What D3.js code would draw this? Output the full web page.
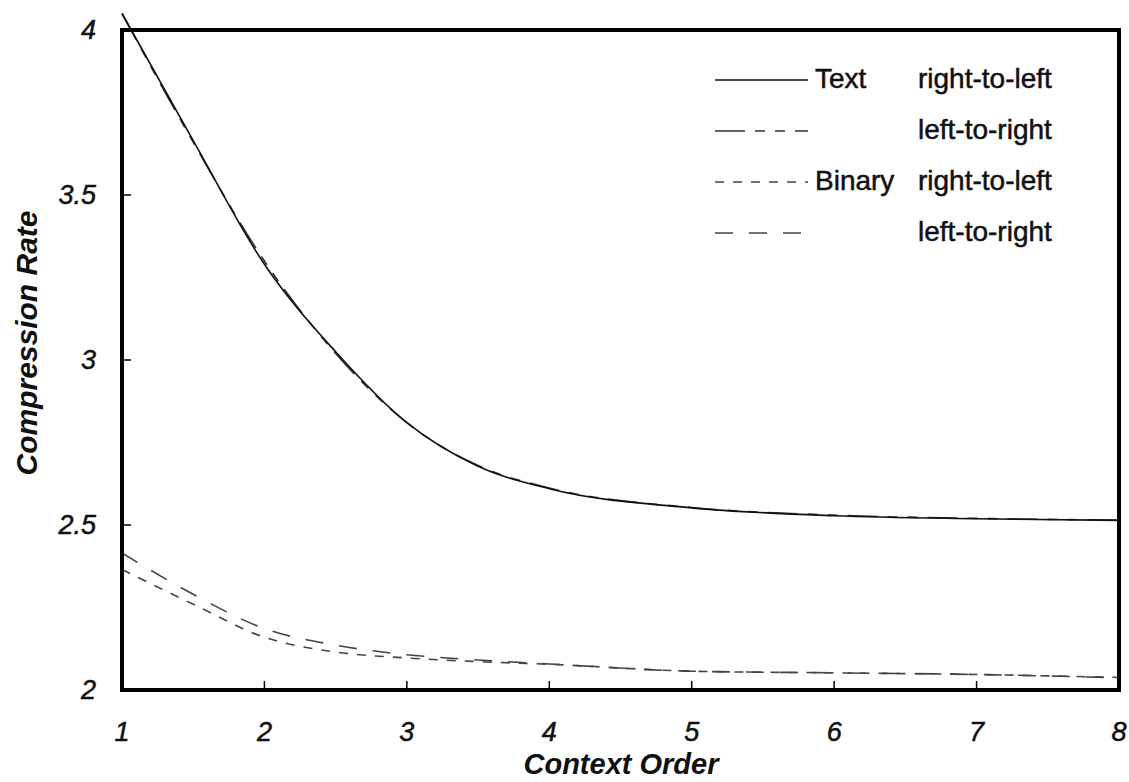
<!DOCTYPE html>
<html>
<head>
<meta charset="utf-8">
<script src="https://cdn.jsdelivr.net/npm/d3@7"></script>
<style>
  body { margin: 0; background: #fff; }
  text { font-family: "Liberation Sans", Arial, sans-serif; fill: #111; }
  .scan { stroke: #111; stroke-width: 0.5px; }
</style>
</head>
<body>
<script>
// data
const contextOrder = [1, 1.5, 2, 2.5, 3, 3.5, 4, 5, 6, 7, 8]
const textRightToLeft = [4.05, 3.665, 3.29, 3.025, 2.81, 2.678, 2.61, 2.552, 2.528, 2.519, 2.514]
const textLeftToRight = [4.05, 3.66, 3.30, 3.02, 2.81, 2.68, 2.612, 2.553, 2.53, 2.52, 2.515]
const binaryRightToLeft = [2.365, 2.26, 2.16, 2.115, 2.097, 2.086, 2.078, 2.057, 2.052, 2.047, 2.038]
const binaryLeftToRight = [2.415, 2.29, 2.186, 2.136, 2.107, 2.091, 2.079, 2.057, 2.052, 2.047, 2.037]
const xTicks = [1, 2, 3, 4, 5, 6, 7, 8]
const yTicks = [2, 2.5, 3, 3.5, 4]

const legendRows = [
  { group: 'Text', dir: 'right-to-left', values: textRightToLeft, dash: null, color: '#111' },
  { group: '', dir: 'left-to-right', values: textLeftToRight, dash: '30,10,10,10,10,10', color: '#333' },
  { group: 'Binary', dir: 'right-to-left', values: binaryRightToLeft, dash: '9,9', color: '#444' },
  { group: '', dir: 'left-to-right', values: binaryLeftToRight, dash: '18,16', color: '#444' }
]

const WIDTH = 1129
const HEIGHT = 782
const svg = d3.select('body').append('svg').attr('width', WIDTH).attr('height', HEIGHT)

const x = d3.scaleLinear().domain([1, 8]).range([122, 1119])
const y = d3.scaleLinear().domain([2, 4]).range([690, 30])

// curves
const line = d3.line()
  .x(d => x(d[0]))
  .y(d => y(d[1]))
  .curve(d3.curveMonotoneX)

// binary first, text on top
legendRows.slice().reverse().forEach(s => {
  svg.append('path')
    .datum(contextOrder.map((c, i) => [c, s.values[i]]))
    .attr('d', line)
    .attr('fill', 'none')
    .attr('stroke', s.color)
    .attr('stroke-width', 1.6)
    .attr('stroke-dasharray', s.dash)
})

// frame
svg.append('rect')
  .attr('x', x(1)).attr('y', y(4))
  .attr('width', x(8) - x(1)).attr('height', y(2) - y(4))
  .attr('fill', 'none').attr('stroke', '#000').attr('stroke-width', 4)

// inner ticks
svg.selectAll('.ytick')
  .data(yTicks.slice(1, -1))
  .enter().append('line')
  .attr('x1', x(1)).attr('x2', x(1) + 9)
  .attr('y1', d => y(d)).attr('y2', d => y(d))
  .attr('stroke', '#000').attr('stroke-width', 1.5)

svg.selectAll('.xtick')
  .data(xTicks.slice(1, -1))
  .enter().append('line')
  .attr('x1', d => x(d)).attr('x2', d => x(d))
  .attr('y1', y(2)).attr('y2', y(2) - 9)
  .attr('stroke', '#000').attr('stroke-width', 1.5)

// tick labels
svg.selectAll('.ylab')
  .data(yTicks)
  .enter().append('text')
  .attr('class', 'scan')
  .attr('x', 96)
  .attr('y', d => y(d) + 9)
  .attr('text-anchor', 'end')
  .style('font-size', '27px')
  .style('font-style', 'italic')
  .text(d => d)

svg.selectAll('.xlab')
  .data(xTicks)
  .enter().append('text')
  .attr('class', 'scan')
  .attr('x', d => x(d))
  .attr('y', 741)
  .attr('text-anchor', 'middle')
  .style('font-size', '27px')
  .style('font-style', 'italic')
  .text(d => d)

// axis titles
svg.append('text')
  .attr('x', 621).attr('y', 774)
  .attr('text-anchor', 'middle')
  .style('font-size', '29px').style('font-weight', 'bold').style('font-style', 'italic')
  .text('Context Order')

svg.append('text')
  .attr('transform', 'translate(37,343) rotate(-90)')
  .attr('text-anchor', 'middle')
  .style('font-size', '30px').style('font-weight', 'bold').style('font-style', 'italic')
  .text('Compression Rate')

// legend
const legend = svg.append('g')
legendRows.forEach((s, i) => {
  const ly = 80 + i * 51
  legend.append('line')
    .attr('x1', 715).attr('x2', 808)
    .attr('y1', ly).attr('y2', ly)
    .attr('stroke', s.color).attr('stroke-width', 1.6)
    .attr('stroke-dasharray', s.dash)
  legend.append('text')
    .attr('class', 'scan')
    .attr('x', 815).attr('y', ly + 8)
    .style('font-size', '28px')
    .text(s.group)
  legend.append('text')
    .attr('class', 'scan')
    .attr('x', 918).attr('y', ly + 8)
    .style('font-size', '28px')
    .text(s.dir)
})
</script>
</body>
</html>
